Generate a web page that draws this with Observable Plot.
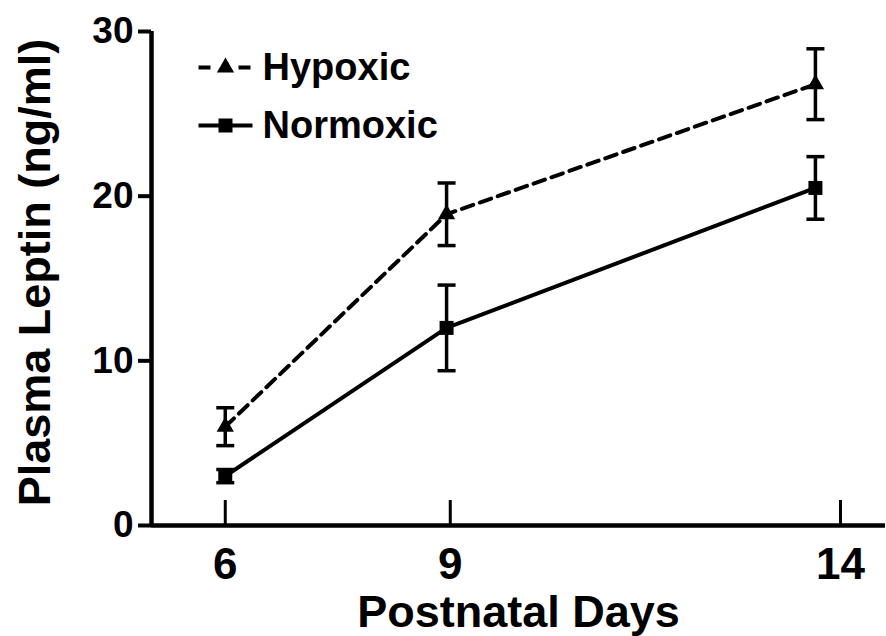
<!DOCTYPE html>
<html><head><meta charset="utf-8">
<script src="https://cdn.jsdelivr.net/npm/d3@7"></script>
<script src="https://cdn.jsdelivr.net/npm/@observablehq/plot@0.6"></script>
<style>html,body{margin:0;padding:0;background:#fff;} svg{display:block}</style>
</head><body><div id="chart"></div>
<script>
// ---- data ----
const days = [6, 9, 14];
const hypoxicMean = [6.0, 18.9, 26.8];
const hypoxicSem = [1.15, 1.9, 2.15];
const normoxicMean = [3.0, 12.0, 20.5];
const normoxicSem = [0.4, 2.6, 1.9];
const seriesNames = ["Hypoxic", "Normoxic"];
const yTicks = [0, 10, 20, 30];
const xTickPositions = [6, 9.05, 14.34];
const xTickLabels = ["6", "9", "14"];
const xTitle = "Postnatal Days";
const yTitle = "Plasma Leptin (ng/ml)";

// ---- build table ----
const hyp = days.map((d, i) => ({series: "Hypoxic", day: d, mean: hypoxicMean[i], sem: hypoxicSem[i]}));
const nor = days.map((d, i) => ({series: "Normoxic", day: d, mean: normoxicMean[i], sem: normoxicSem[i]}));
const rows = hyp.concat(nor);

const cap = {draw(ctx) { ctx.moveTo(-9, 0); ctx.lineTo(9, 0); }};
const legendSolid = {draw(ctx) { ctx.moveTo(-27, 0); ctx.lineTo(27, 0); }};
const legendDashed = {draw(ctx) { ctx.moveTo(-27, 0); ctx.lineTo(-15, 0); ctx.moveTo(13, 0); ctx.lineTo(25, 0); }};
const markerSymbol = {Hypoxic: "triangle", Normoxic: "square"};
const markerR = {Hypoxic: 6.4, Normoxic: 7.9};

const legendMarks = [];
seriesNames.forEach((name, i) => {
  const dy = 36 + i * 58;
  legendMarks.push(
    Plot.dot([name], {x: null, y: null, frameAnchor: "top-left", dx: 74, dy,
      symbol: i === 0 ? legendDashed : legendSolid, stroke: "black", strokeWidth: 4, fill: "none"}),
    Plot.dot([name], {x: null, y: null, frameAnchor: "top-left", dx: 74, dy,
      symbol: markerSymbol[name], r: markerR[name], fill: "black", stroke: "none"}),
    Plot.text([name], {x: null, y: null, frameAnchor: "top-left", dx: 111, dy, text: d => d,
      textAnchor: "start", lineAnchor: "middle", fontSize: 38})
  );
});

const chart = Plot.plot({
  width: 886, height: 636,
  marginTop: 31, marginBottom: 111, marginLeft: 151, marginRight: 1,
  x: {domain: [5, 14.95]},
  y: {domain: [0, 30]},
  style: {fontFamily: "'Liberation Sans', Arial, sans-serif", fontWeight: "bold", color: "black", background: "white"},
  marks: [
    Plot.ruleY([0], {strokeWidth: 4.5}),
    Plot.ruleX([5], {strokeWidth: 4.5}),
    Plot.axisY(yTicks, {tickSize: 13, tickPadding: 5, fontSize: 37, strokeWidth: 4, label: null}),
    Plot.tickX(xTickPositions, {insetTop: 469, strokeWidth: 3}),
    Plot.axisX(xTickPositions, {tickSize: 0, tickPadding: 22, fontSize: 44, label: null,
      tickFormat: d => xTickLabels[xTickPositions.indexOf(d)]}),
    Plot.text([yTitle], {x: null, y: null, text: d => d, frameAnchor: "left", rotate: -90,
      textAnchor: "middle", lineAnchor: "middle", dx: -116, dy: -6, fontSize: 45}),
    Plot.text([xTitle], {x: null, y: null, text: d => d, frameAnchor: "bottom",
      textAnchor: "middle", lineAnchor: "middle", dy: 87, fontSize: 45}),
    // error bars
    Plot.ruleX(rows, {x: "day", y1: d => d.mean - d.sem, y2: d => d.mean + d.sem, strokeWidth: 3.5}),
    Plot.dot(rows, {x: "day", y: d => d.mean + d.sem, symbol: cap, stroke: "black", strokeWidth: 3.5, fill: "none"}),
    Plot.dot(rows, {x: "day", y: d => d.mean - d.sem, symbol: cap, stroke: "black", strokeWidth: 3.5, fill: "none"}),
    // lines
    Plot.line(hyp, {x: "day", y: "mean", strokeWidth: 4, strokeDasharray: "12,7"}),
    Plot.line(nor, {x: "day", y: "mean", strokeWidth: 4}),
    // markers
    Plot.dot(hyp, {x: "day", y: "mean", symbol: "triangle", r: markerR.Hypoxic, fill: "black", stroke: "none"}),
    Plot.dot(nor, {x: "day", y: "mean", symbol: "square", r: markerR.Normoxic, fill: "black", stroke: "none"}),
    ...legendMarks
  ]
});
document.getElementById("chart").appendChild(chart);
</script>
</body></html>
